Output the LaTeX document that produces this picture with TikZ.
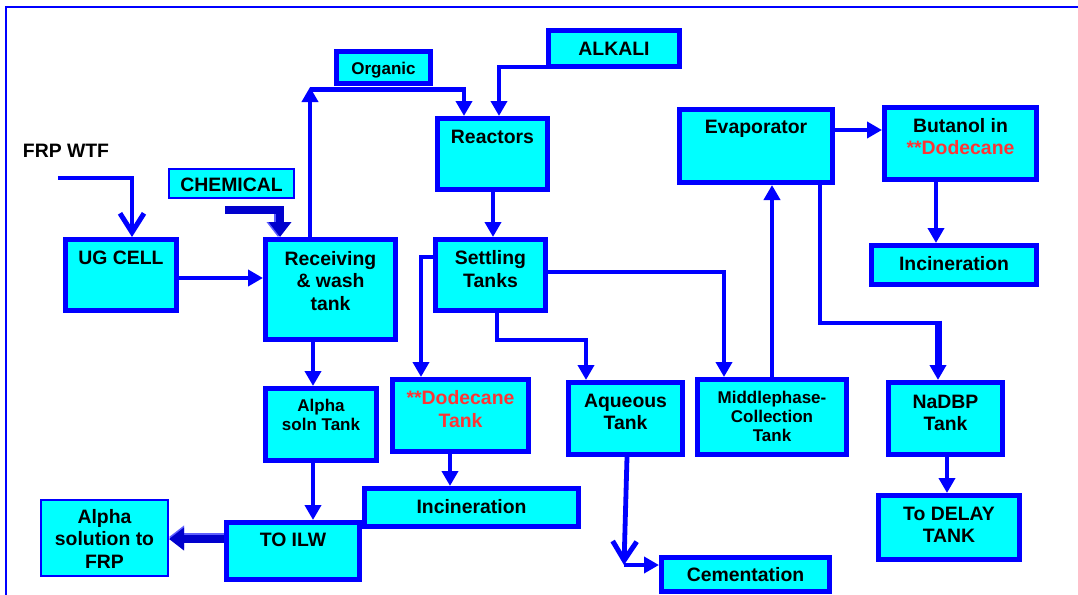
\documentclass[tikz,border=0pt]{standalone}
\usepackage{fontspec}
\setmainfont{Liberation Sans}
\usetikzlibrary{arrows.meta}

\definecolor{flowblue}{RGB}{0,0,255}
\definecolor{flowcyan}{RGB}{0,255,255}
\definecolor{flowred}{RGB}{255,51,51}
\definecolor{lightblue}{RGB}{95,95,255}
\definecolor{deepblue}{RGB}{0,0,205}

% box by its outer corners: [border width]{name}{x1}{y1}{x2}{y2}
\newcommand\flowbox[6][5]{%
  \node[box, line width=#1pt, outer sep={#1/2},
        minimum width={#5-#3-#1}, minimum height={#6-#4-#1}]
    (#2) at ({(#3+#5)/2},{(#4+#6)/2}) {};}

\tikzset{
  box/.style={draw=flowblue, fill=flowcyan, inner sep=0pt},
  big/.style={font=\bfseries\fontsize{19.4}{22.5}\selectfont, align=center,
              inner sep=0pt, outer sep=0pt, anchor=north},
  small/.style={font=\bfseries\fontsize{17}{19.3}\selectfont, align=center,
                inner sep=0pt, outer sep=0pt, anchor=north},
  hot/.style={text=flowred},
  plain/.style={draw=flowblue, line width=4.8pt},
  flow/.style={plain, -{Triangle[length=15pt,width=16pt]}},
  barb/.style={plain, -{Straight Barb[length=19pt,width=24pt,line width=5pt]}},
  fat/.style={line width=8pt, draw=deepblue, -{Triangle[length=15pt,width=22pt]}},
  fatlight/.style={fat, draw=lightblue, xshift=-2pt, yshift=2pt},
}

\begin{document}
\begin{tikzpicture}[x=1pt, y=-1pt]
\useasboundingbox (0,0) rectangle (1078,594);

% frame
\draw[flowblue, line width=1.5pt] (6,600) -- (6,7) -- (1080,7);

% boxes
\flowbox{organic}{334}{49}{433}{86}
\flowbox{alkali}{546}{28}{682}{69}
\flowbox{reactors}{435}{116}{550}{192}
\flowbox[2]{chemical}{168}{168}{295}{199}
\flowbox{ug}{63}{237}{179}{313}
\flowbox{rec}{263}{237}{398}{342}
\flowbox{settling}{433}{237}{548}{313}
\flowbox{alpha}{263}{386}{379}{463}
\flowbox{dodecane}{390}{377}{531}{454}
\flowbox{aqueous}{566}{380}{685}{457}
\flowbox{middle}{695}{377}{849}{457}
\flowbox{nadbp}{886}{380}{1005}{457}
\flowbox{delay}{876}{493}{1022}{562}
\flowbox{cement}{659}{555}{832}{594}
\flowbox{incM}{362}{486}{581}{529}
\flowbox{ilw}{224}{520}{362}{582}
\flowbox[2]{frp}{40}{499}{169}{577}
\flowbox{evap}{677}{107}{835}{185}
\flowbox{butanol}{882}{105}{1039}{182}
\flowbox{incR}{869}{243}{1039}{287}

% labels
\node[big] (frpwtf) at (66,144) {FRP WTF};
\node[small] (organicT) at (organic.center |- 0,62) {Organic};
\node[big] (alkaliT) at (alkali.center |- 0,42) {ALKALI};
\node[big] (reactorsT) at (reactors.center |- 0,130) {Reactors};
\node[big] (chemicalT) at (chemical.center |- 0,178) {CHEMICAL};
\node[big] (ugT) at (ug.center |- 0,251) {UG CELL};
\node[big] (recT) at (rec.center |- 0,251) {Receiving\\\& wash\\tank};
\node[big] (settlingT) at (settling.center |- 0,250.7) {Settling\\Tanks};
\node[small] (alphaT) at (alpha.center |- 0,399) {Alpha\\soln Tank};
\node[big, hot] (dodecaneT) at (dodecane.center |- 0,390.7) {**Dodecane\\Tank};
\node[big] (aqueousT) at (aqueous.center |- 0,394) {Aqueous\\Tank};
\node[small] (middleT) at (middle.center |- 0,390.7) {Middlephase-\\Collection\\Tank};
\node[big] (nadbpT) at (nadbp.center |- 0,395) {NaDBP\\Tank};
\node[big] (delayT) at (delay.center |- 0,506.7) {To DELAY\\TANK};
\node[big] (cementT) at (cement.center |- 0,567.3) {Cementation};
\node[big] (incMT) at (incM.center |- 0,499) {Incineration};
\node[big] (ilwT) at (ilw.center |- 0,533) {TO ILW};
\node[big] (frpT) at (frp.center |- 0,509) {Alpha\\solution to\\FRP};
\node[big] (evapT) at (evap.center |- 0,120) {Evaporator};
\node[big] (butanolT) at (butanol.center |- 0,118.3) {Butanol in\\\textcolor{flowred}{**Dodecane}};
\node[big] (incRT) at (incR.center |- 0,256) {Incineration};

% connectors
\coordinate (frpin) at (58,178);
\draw[barb] (frpin) -| (ug.north -| 132,0);

\coordinate (chemin) at (225,210);
\draw[fatlight] (chemin) -| (rec.north -| 280,0);
\draw[fat] (chemin) -| (rec.north -| 280,0);

\draw[flow] (ug.east |- 0,278) -- (rec.west |- 0,278);

\coordinate (orgjoin) at (310,89.5);
\draw[flow, shorten >=-2.5pt] (rec.north -| 310,0) -- (orgjoin);
\draw[flow] (orgjoin) -| (reactors.north -| 464,0);

\draw[flow] (alkali.west |- 0,67) -| (reactors.north -| 499,0);
\draw[flow] (reactors.south -| 493,0) -- (settling.north -| 493,0);

\draw[flow] (settling.west |- 0,257) -| (dodecane.north -| 421,0);
\coordinate (aqbend) at (497,340);
\draw[flow] (settling.south -| 497,0) -- (aqbend) -| (aqueous.north -| 586,0);
\draw[flow] (settling.east |- 0,272) -| (middle.north -| 724,0);

\draw[flow] (middle.north -| 772,0) -- (evap.south -| 772,0);
\coordinate (nabend) at (938,323);
\draw[plain] (evap.south -| 820,0) |- (nabend);
\draw[flow, line width=7pt, shorten <=-2.4pt] (nabend) -- (nadbp.north -| 938,0);

\draw[flow] (evap.east |- 0,130) -- (butanol.west |- 0,130);
\draw[flow] (butanol.south -| 936,0) -- (incR.north -| 936,0);
\draw[flow] (nadbp.south -| 947,0) -- (delay.north -| 947,0);

\draw[flow] (rec.south -| 313,0) -- (alpha.north -| 313,0);
\draw[flow] (alpha.south -| 313,0) -- (ilw.north -| 313,0);
\draw[flow] (dodecane.south -| 450,0) -- (incM.north -| 450,0);

\coordinate (cembend) at (624,565);
\draw[barb] (aqueous.south -| 627,0) -- (cembend);
\draw[flow] (cembend) -- (cement.west |- cembend);

\draw[fatlight] (ilw.west |- 0,539) -- (frp.east |- 0,539);
\draw[fat] (ilw.west |- 0,539) -- (frp.east |- 0,539);
\end{tikzpicture}
\end{document}
